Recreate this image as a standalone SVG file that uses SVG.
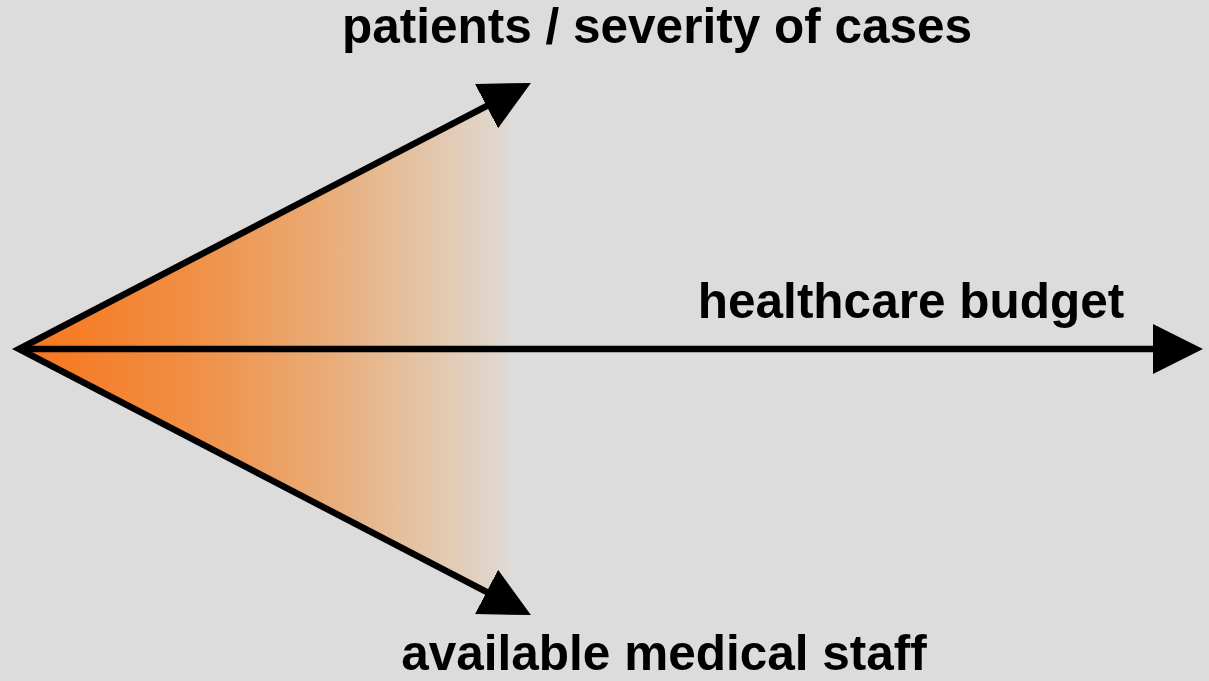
<svg xmlns="http://www.w3.org/2000/svg" width="1209" height="681" viewBox="0 0 1209 681">
  <defs>
    <style>
      .lbl { font-family: "Liberation Sans", Arial, sans-serif; font-weight: bold; font-size: 49.5px; fill: #000; text-anchor: middle; }
      .axis { stroke: #000; stroke-width: 6.5; fill: none; stroke-linejoin: miter; }
    </style>
    <linearGradient id="fan" x1="19" y1="0" x2="510" y2="0" gradientUnits="userSpaceOnUse">
      <stop offset="0" stop-color="#f77820"/>
      <stop offset="0.1" stop-color="#f67c26"/>
      <stop offset="0.36" stop-color="#f09046"/>
      <stop offset="0.62" stop-color="#e9ab76"/>
      <stop offset="0.83" stop-color="#e4c5a8"/>
      <stop offset="1" stop-color="#dfd9d4"/>
    </linearGradient>
    <marker id="head" markerUnits="userSpaceOnUse" markerWidth="50" markerHeight="50" viewBox="0 0 48 48" refX="2" refY="24" orient="auto-start-reverse">
      <path d="M0,0 L48,24 L0,48 Z" fill="#000"/>
    </marker>
  </defs>
  <rect width="1209" height="681" fill="#dcdcdc"/>
  <g id="fan-area">
    <polygon points="19,349 510,94 510,604" fill="url(#fan)"/>
  </g>
  <g id="connectors">
    <polyline class="axis" points="488.4,105.1 19,349 488.4,592.9" marker-start="url(#head)" marker-end="url(#head)"/>
    <line class="axis" x1="19" y1="349" x2="1155" y2="349" marker-end="url(#head)"/>
  </g>
  <g id="node-patients">
    <text class="lbl" x="657" y="43">patients / severity of cases</text>
  </g>
  <g id="node-budget">
    <text class="lbl" x="911" y="318">healthcare budget</text>
  </g>
  <g id="node-staff">
    <text class="lbl" x="664" y="670">available medical staff</text>
  </g>
</svg>
